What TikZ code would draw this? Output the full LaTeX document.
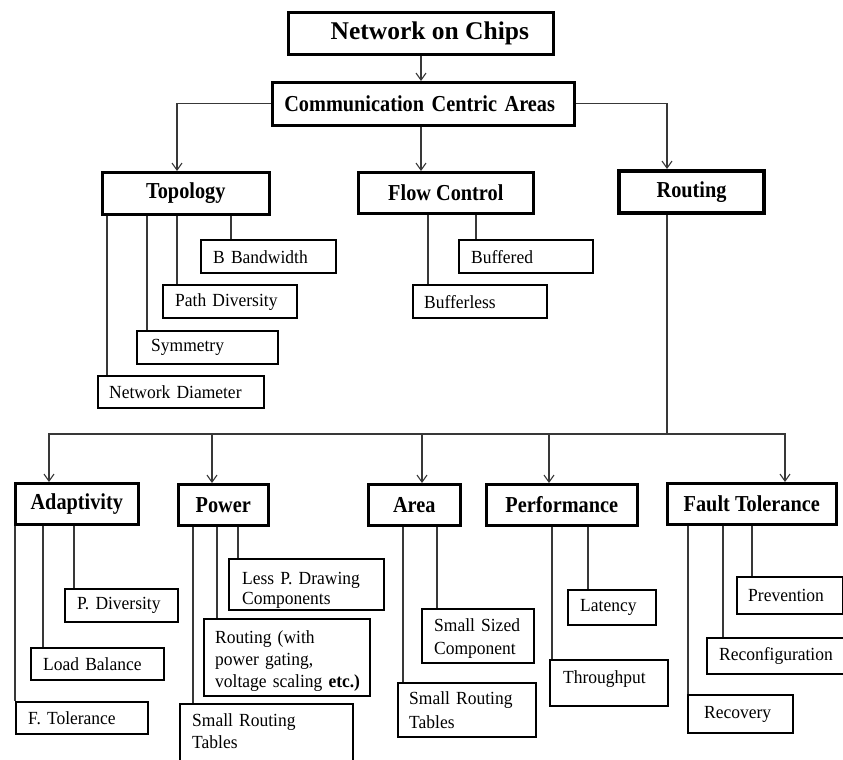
\documentclass[tikz,border=0pt]{standalone}
\usepackage{fontspec}
\setmainfont{Liberation Serif}
% slightly narrowed serif faces for the box labels
\newfontfamily\headfont{Liberation Serif}[FakeStretch=0.89]
\newfontfamily\leaffont{Liberation Serif}[FakeStretch=0.945]
\usetikzlibrary{arrows.meta}
\begin{document}
\begin{tikzpicture}[x=1pt,y=-1pt,
  conn/.style={draw=black!78, line width=1.2pt},
  arr/.style={conn, -{Straight Barb[length=7pt,width=10pt,line width=1.1pt]}},
  headbox/.style={draw=black, line width=2.6pt, inner sep=0pt, anchor=north west,
    font=\headfont\bfseries\fontsize{22.8}{27}\selectfont},
  leaf/.style={draw=black, line width=2.4pt, inner ysep=0pt, anchor=north west,
    align=left, font=\leaffont\fontsize{18.5}{21}\selectfont},
]
\fill[white] (0,0) rectangle (843,760);
\useasboundingbox (0,0) rectangle (843,760);

% ---- upper levels ----
\node[headbox, minimum width=265, minimum height=42,
      font=\bfseries\fontsize{25.5}{30}\selectfont] (noc) at (287,11) {\hspace*{18pt}Network on Chips};
\node[headbox, minimum width=302, minimum height=43, text width=278pt, align=left, inner xsep=12pt]
      (cca) at (271,81) {Communication Centric Areas};
\node[headbox, minimum width=167, minimum height=42] (topo) at (101,171) {Topology};
\node[headbox, minimum width=175, minimum height=41] (flow) at (357,171) {Flow Control};
\node[headbox, line width=4.2pt, minimum width=145, minimum height=42] (routing) at (617,169) {Routing};

\draw[arr] (noc.south -| 421,0) -- (cca.north -| 421,0);
\draw[arr] (cca.west) -| (topo.north -| 177,0);
\draw[arr] (cca.south -| 421,0) -- (flow.north -| 421,0);
\draw[arr] (cca.east) -| (routing.north -| 667,0);

% ---- topology ----
\node[leaf, minimum width=135, minimum height=33, text width=111pt, inner xsep=12pt] (bband) at (200,239) {B Bandwidth};
\node[leaf, minimum width=134, minimum height=33, text width=110pt, inner xsep=12pt] (pathdiv) at (162,284) {Path Diversity};
\node[leaf, minimum width=141, minimum height=33, text width=113pt, inner xsep=14pt] (symm) at (136,330) {Symmetry};
\node[leaf, minimum width=166, minimum height=32, text width=144pt, inner xsep=11pt] (netdiam) at (97,375) {Network Diameter};

\draw[conn] (topo.south -| 107,0) -- (netdiam.north -| 107,0);
\draw[conn] (topo.south -| 147,0) -- (symm.north -| 147,0);
\draw[conn] (topo.south -| 177,0) -- (pathdiv.north -| 177,0);
\draw[conn] (topo.south -| 231,0) -- (bband.north -| 231,0);

% ---- flow control ----
\node[leaf, minimum width=134, minimum height=33, text width=110pt, inner xsep=12pt] (buffered) at (458,239) {Buffered};
\node[leaf, minimum width=134, minimum height=33, text width=112pt, inner xsep=11pt] (bufferless) at (412,284) {Bufferless};

\draw[conn] (flow.south -| 428,0) -- (bufferless.north -| 428,0);
\draw[conn] (flow.south -| 476,0) -- (buffered.north -| 476,0);

% ---- routing bus ----
\node[headbox, minimum width=123, minimum height=41] (adapt) at (14,482) {Adaptivity};
\node[headbox, minimum width=90, minimum height=41] (power) at (177,483) {Power};
\node[headbox, minimum width=92, minimum height=41] (area) at (367,483) {Area};
\node[headbox, minimum width=151, minimum height=41] (perf) at (485,483) {Performance};
\node[headbox, minimum width=169, minimum height=41] (fault) at (666,482) {Fault Tolerance};

\coordinate (bus) at (667,434);
\draw[conn] (routing.south -| 667,0) -- (bus);
\draw[arr] (bus) -| (adapt.north -| 49,0);
\draw[arr] (bus) -| (power.north -| 212,0);
\draw[arr] (bus) -| (area.north -| 422,0);
\draw[arr] (bus) -| (perf.north -| 549,0);
\draw[arr] (bus) -| (fault.north -| 785,0);

% ---- adaptivity ----
\node[leaf, minimum width=113, minimum height=33, text width=89pt, inner xsep=12pt] (pdiv) at (64,588) {P. Diversity};
\node[leaf, minimum width=133, minimum height=32, text width=109pt, inner xsep=12pt] (loadbal) at (30,647) {Load Balance};
\node[leaf, minimum width=132, minimum height=32, text width=108pt, inner xsep=12pt] (ftol) at (15,701) {F. Tolerance};

\draw[conn] (adapt.south -| 15,0) -- (ftol.north -| 15,0);
\draw[conn] (adapt.south -| 43,0) -- (loadbal.north -| 43,0);
\draw[conn] (adapt.south -| 74,0) -- (pdiv.north -| 74,0);

% ---- power ----
\node[leaf, minimum width=155, minimum height=51, text width=129pt, inner xsep=13pt,
      font=\leaffont\fontsize{18.5}{20}\selectfont] (lesspd) at (228,558)
      {\rule{0pt}{23pt}Less P. Drawing\\Components};
\node[leaf, minimum width=166, minimum height=77, text width=144pt, inner xsep=11pt,
      font=\leaffont\fontsize{18.5}{22}\selectfont] (routpg) at (203,618)
      {\rule{0pt}{19pt}Routing (with\\power gating,\\\mbox{voltage scaling \textbf{etc.)}}};
\node[leaf, minimum width=173, minimum height=66, text width=149pt, inner xsep=12pt,
      font=\leaffont\fontsize{18.5}{22}\selectfont] (srtpower) at (179,703)
      {Small Routing\\Tables\rule[-12pt]{0pt}{12pt}};

\draw[conn] (power.south -| 193,0) -- (srtpower.north -| 193,0);
\draw[conn] (power.south -| 217,0) -- (routpg.north -| 217,0);
\draw[conn] (power.south -| 238,0) -- (lesspd.north -| 238,0);

% ---- area ----
\node[leaf, minimum width=112, minimum height=54, text width=88pt, inner xsep=12pt,
      font=\leaffont\fontsize{18.5}{23}\selectfont] (ssc) at (421,608)
      {\rule{0pt}{17pt}Small Sized\\Component};
\node[leaf, minimum width=138, minimum height=54, text width=116pt, inner xsep=11pt,
      font=\leaffont\fontsize{18.5}{24}\selectfont] (srtarea) at (397,682)
      {Small Routing\\Tables};

\draw[conn] (area.south -| 403,0) -- (srtarea.north -| 403,0);
\draw[conn] (area.south -| 437,0) -- (ssc.north -| 437,0);

% ---- performance ----
\node[leaf, minimum width=88, minimum height=35, text width=64pt, inner xsep=12pt] (latency) at (567,589) {Latency};
\node[leaf, minimum width=118, minimum height=46, text width=92pt, inner xsep=13pt] (thru) at (549,659)
      {Throughput\rule[-12pt]{0pt}{12pt}};

\draw[conn] (perf.south -| 552,0) -- (thru.north -| 552,0);
\draw[conn] (perf.south -| 588,0) -- (latency.north -| 588,0);

% ---- fault tolerance ----
\node[leaf, minimum width=106, minimum height=37, text width=84pt, inner xsep=11pt] (prevent) at (736,576) {Prevention};
\node[leaf, minimum width=144, minimum height=36, text width=120pt, inner xsep=12pt] (reconf) at (706,637) {Reconfiguration};
\node[leaf, minimum width=105, minimum height=38, text width=73pt, inner xsep=16pt] (recovery) at (687,694) {Recovery};

\draw[conn] (fault.south -| 688,0) -- (recovery.north -| 688,0);
\draw[conn] (fault.south -| 723,0) -- (reconf.north -| 723,0);
\draw[conn] (fault.south -| 752,0) -- (prevent.north -| 752,0);
\end{tikzpicture}
\end{document}
